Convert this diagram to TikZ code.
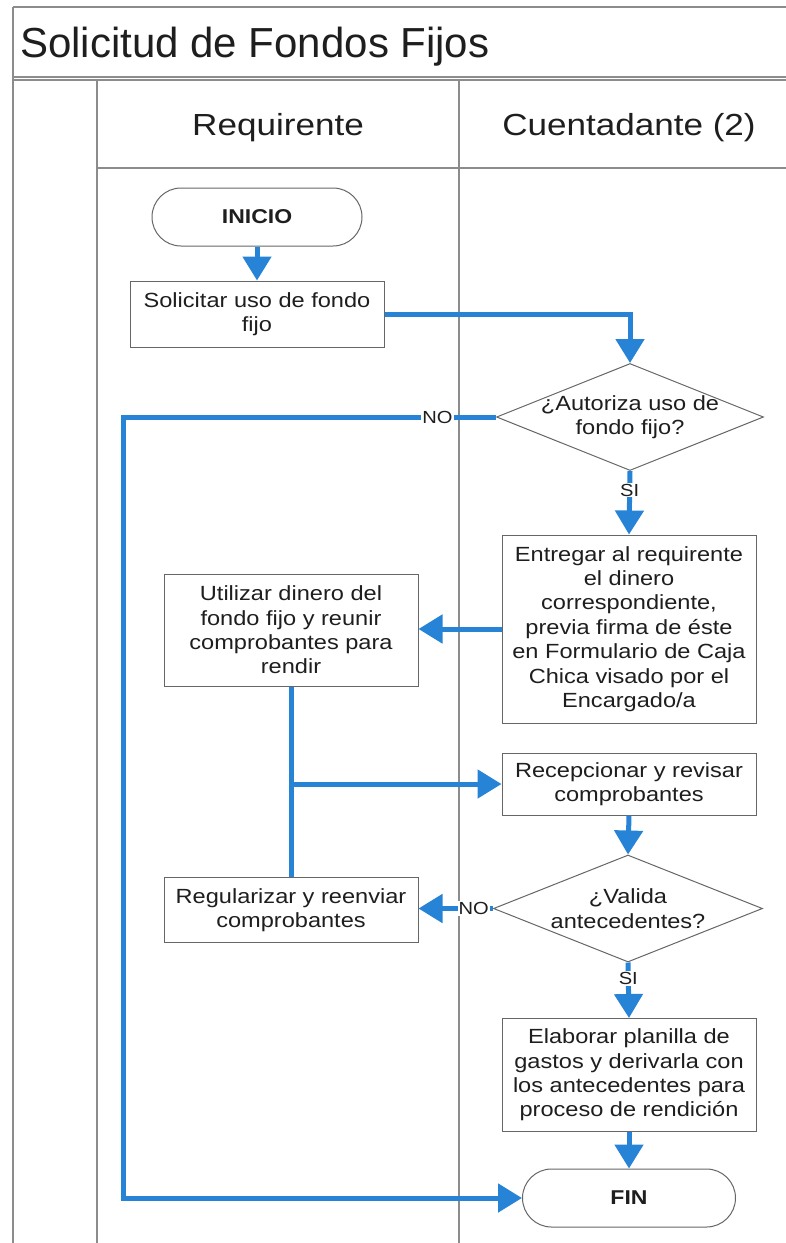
\documentclass[tikz,border=0pt]{standalone}
\usepackage{fontspec}
\setmainfont{Liberation Sans}
\newfontfamily\wide{Liberation Sans}[FakeStretch=1.15]
\usetikzlibrary{shapes.geometric,arrows.meta}
\definecolor{flowblue}{RGB}{38,131,214}
\definecolor{txtc}{RGB}{30,30,30}
\tikzset{
  frame/.style={draw=black!45, line width=1.2pt},
  box/.style={draw=black!60, line width=1pt, fill=white, align=center, inner sep=0pt,
    font=\wide\fontsize{20.5}{24.4}\selectfont, text=txtc},
  term/.style={box, rounded corners=29pt, font=\wide\bfseries\fontsize{20}{24}\selectfont},
  dia/.style={diamond, draw=black!60, line width=1pt, fill=white, inner sep=0pt},
  dtxt/.style={align=center, inner sep=0pt, font=\wide\fontsize{20.5}{24.4}\selectfont, text=txtc},
  flow/.style={draw=flowblue, line width=5pt, -{Triangle[length=24pt,width=28pt]}},
  plain/.style={draw=flowblue, line width=5pt},
  lbl/.style={fill=white, inner sep=1pt, font=\wide\fontsize{17.5}{18}\selectfont, text=txtc},
}
\begin{document}
\begin{tikzpicture}[x=1pt,y=-1pt]
\useasboundingbox (0,0) rectangle (786,1243);
\fill[white] (0,0) rectangle (786,1243);
% frame
\draw[frame] (13,7) -- (786,7);
\draw[frame] (13,7) -- (13,1243);
\draw[frame] (13,77) -- (786,77);
\draw[frame] (13,80) -- (786,80);
\draw[frame] (97,80) -- (97,1243);
\draw[frame] (459,80) -- (459,1243);
\draw[frame] (97,168) -- (786,168);
% titles
\node[anchor=base west, inner sep=0pt, font=\fontsize{42}{44}\selectfont, text=txtc] (title) at (20,57) {Solicitud de Fondos Fijos};
\node[anchor=base, inner sep=0pt, font=\wide\fontsize{30.5}{32}\selectfont, text=txtc] (lane1) at (278,135) {Requirente};
\node[anchor=base, inner sep=0pt, font=\wide\fontsize{30.5}{32}\selectfont, text=txtc] (lane2) at (629,135) {Cuentadante (2)};
% nodes
\node[term, minimum width=210pt, minimum height=58pt] (inicio) at (257,217) {INICIO};
\node[box, minimum width=254pt, minimum height=66pt] (sol) at (257,314) {Solicitar uso de fondo\\fijo};
\node[dia, minimum width=267pt, minimum height=107pt,
  label={[dtxt]center:{¿Autoriza uso de\\fondo fijo?}}] (d1) at (630,417) {};
\node[box, minimum width=254pt, minimum height=188pt] (ent) at (629,629) {Entregar al requirente\\el dinero\\correspondiente,\\previa firma de éste\\en Formulario de Caja\\Chica visado por el\\Encargado/a};
\node[box, minimum width=254pt, minimum height=112pt] (uti) at (291,630) {Utilizar dinero del\\fondo fijo y reunir\\comprobantes para\\rendir};
\node[box, minimum width=254pt, minimum height=62pt] (rec) at (629,784) {Recepcionar y revisar\\comprobantes};
\node[box, minimum width=254pt, minimum height=65pt] (reg) at (291,910) {Regularizar y reenviar\\comprobantes};
\node[dia, minimum width=269pt, minimum height=107pt,
  label={[dtxt]center:{¿Valida\\antecedentes?}}] (d2) at (628,908.5) {};
\node[box, minimum width=254pt, minimum height=113pt] (ela) at (629,1075) {Elaborar planilla de\\gastos y derivarla con\\los antecedentes para\\proceso de rendición};
\node[term, minimum width=213pt, minimum height=58pt] (fin) at (629,1198) {FIN};
\coordinate (nc) at (123,0);
\coordinate (br) at (uti.south |- rec.west);
% connectors
\draw[flow] (inicio.south) -- (sol.north);
\draw[flow] (sol.east) -| (d1.north);
\draw[flow] (d1.west) -- node[lbl, pos=0.157] {NO} (d1.west -| nc) |- (fin.west);
\draw[flow] (d1.south) -- node[lbl, pos=0.3] {SI} (ent.north);
\draw[flow] (ent.west) -- (ent.west -| uti.east);
\draw[plain] (uti.south) -- (reg.north);
\draw[flow] (br) -- (rec.west);
\draw[flow] (rec.south) -- (d2.north);
\draw[flow] (d2.west) -- node[lbl, pos=0.26] {NO} (d2.west -| reg.east);
\draw[flow] (d2.south) -- node[lbl, pos=0.29] {SI} (ela.north);
\draw[flow] (ela.south) -- (fin.north);
\end{tikzpicture}
\end{document}
